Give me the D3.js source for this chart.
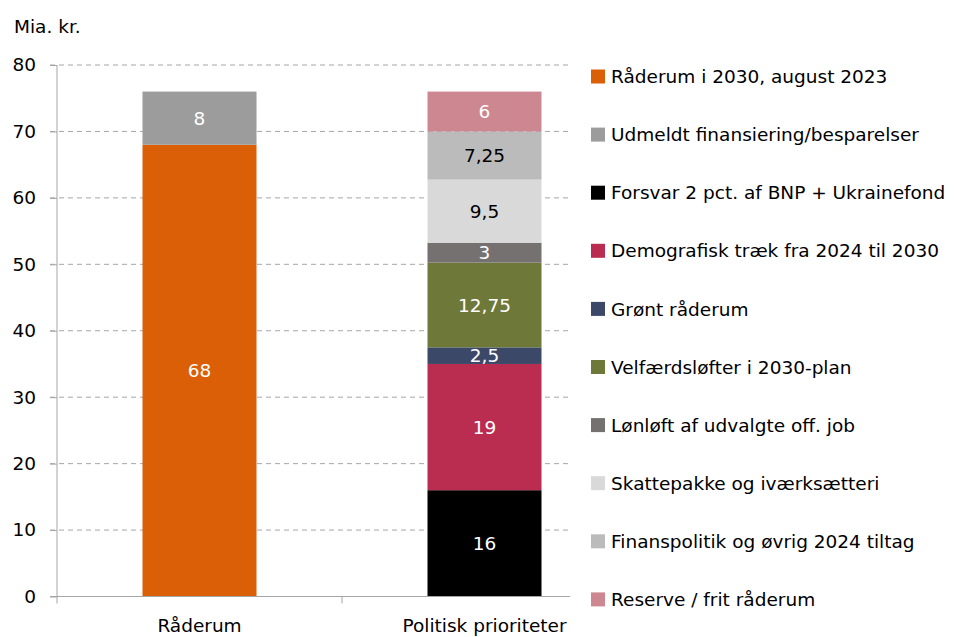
<!DOCTYPE html>
<html>
<head>
<meta charset="utf-8">
<script src="https://cdn.jsdelivr.net/npm/d3@7"></script>
<style>
  body { margin: 0; background: #fff; }
  text { font-family: "DejaVu Sans", sans-serif; }
</style>
</head>
<body>
<div id="chart-area"></div>
<script>
// data
var categories = ["Råderum", "Politisk prioriteter"];
var seriesNames = [
    "Råderum i 2030, august 2023",
    "Udmeldt finansiering/besparelser",
    "Forsvar 2 pct. af BNP + Ukrainefond",
    "Demografisk træk fra 2024 til 2030",
    "Grønt råderum",
    "Velfærdsløfter i 2030-plan",
    "Lønløft af udvalgte off. job",
    "Skattepakke og iværksætteri",
    "Finanspolitik og øvrig 2024 tiltag",
    "Reserve / frit råderum"
];
var raderumValues = [68, 8, 0, 0, 0, 0, 0, 0, 0, 0];
var politiskValues = [0, 0, 16, 19, 2.5, 12.75, 3, 9.5, 7.25, 6];
var colors = ["#DA5F07", "#9C9C9C", "#000000", "#BB2C51", "#3C4868", "#6E7838", "#767171", "#D9D9D9", "#BBBBBB", "#CD8791"];
var labelColors = ["#fff", "#fff", "#fff", "#fff", "#fff", "#fff", "#fff", "#000", "#000", "#fff"];
var yTicks = [0, 10, 20, 30, 40, 50, 60, 70, 80];

var FONT = "'DejaVu Sans', sans-serif";
var FS = 18.5;

var svg = d3.select("#chart-area").append("svg")
    .attr("width", 958)
    .attr("height", 637);

var mLeft = 57, mRight = 627, mTop = 65, mBottom = 596.5;

var x = d3.scaleBand().domain(categories).range([mLeft, mRight]).paddingInner(0).paddingOuter(0);
var y = d3.scaleLinear().domain([0, 80]).range([mBottom, mTop]);
var barW = x.bandwidth() * 0.4;

// gridlines
svg.selectAll("line.grid").data(yTicks.slice(1)).enter().append("line")
    .attr("class", "grid")
    .attr("x1", 50).attr("x2", 570)
    .attr("y1", d => y(d)).attr("y2", d => y(d))
    .attr("stroke", "#A6A6A6")
    .attr("stroke-width", 1)
    .attr("stroke-dasharray", "5,4");

// stacked data
var rows = categories.map((c, i) => {
    var vals = i == 0 ? raderumValues : politiskValues;
    var row = { cat: c };
    seriesNames.forEach((s, j) => { row[s] = vals[j]; });
    return row;
});
var stack = d3.stack().keys(seriesNames)(rows);

stack.forEach((layer, j) => {
    layer.forEach(d => {
        var v = d[1] - d[0];
        if (v <= 0) return;
        var cx = x(d.data.cat) + x.bandwidth() / 2;
        svg.append("rect")
            .attr("x", cx - barW / 2)
            .attr("y", y(d[1]))
            .attr("width", barW)
            .attr("height", y(d[0]) - y(d[1]))
            .attr("fill", colors[j]);
        svg.append("text")
            .attr("x", cx)
            .attr("y", (y(d[0]) + y(d[1])) / 2)
            .attr("dy", "0.36em")
            .attr("text-anchor", "middle")
            .attr("font-size", FS)
            .attr("fill", labelColors[j])
            .text(String(v).replace(".", ","));
    });
});

// y axis
var yAxis = svg.append("g")
    .attr("transform", "translate(" + mLeft + ",0)")
    .call(d3.axisLeft(y).tickValues(yTicks).tickSize(7).tickPadding(14));
yAxis.select(".domain").attr("stroke", "#A6A6A6").attr("d", "M0," + mTop + "V" + mBottom);
yAxis.selectAll(".tick line").attr("stroke", "#A6A6A6");
yAxis.selectAll(".tick text").attr("font-size", FS).attr("fill", "#000")
    .style("font-family", FONT);

// x axis
var xAxis = svg.append("g")
    .attr("transform", "translate(0," + mBottom + ")")
    .call(d3.axisBottom(x).tickSize(0).tickPadding(22));
xAxis.select(".domain").attr("stroke", "#A6A6A6").attr("d", "M50,0H570");
xAxis.selectAll(".tick text").attr("font-size", FS).attr("fill", "#000")
    .style("font-family", FONT);
svg.selectAll("line.xtick").data([mLeft, x(categories[1])]).enter().append("line")
    .attr("class", "xtick")
    .attr("x1", d => d).attr("x2", d => d)
    .attr("y1", mBottom).attr("y2", mBottom + 7)
    .attr("stroke", "#A6A6A6");

// axis title
svg.append("text")
    .attr("x", 14).attr("y", 33)
    .attr("font-size", FS)
    .text("Mia. kr.");

// legend
var legend = svg.selectAll("g.legend").data(seriesNames).enter().append("g")
    .attr("class", "legend")
    .attr("transform", (d, i) => "translate(591," + (76.5 + i * 58.1) + ")");
legend.append("rect")
    .attr("x", 0).attr("y", -7)
    .attr("width", 14).attr("height", 14)
    .attr("fill", (d, i) => colors[i]);
legend.append("text")
    .attr("x", 20).attr("dy", "0.36em")
    .attr("font-size", FS)
    .text(d => d);
</script>
</body>
</html>
